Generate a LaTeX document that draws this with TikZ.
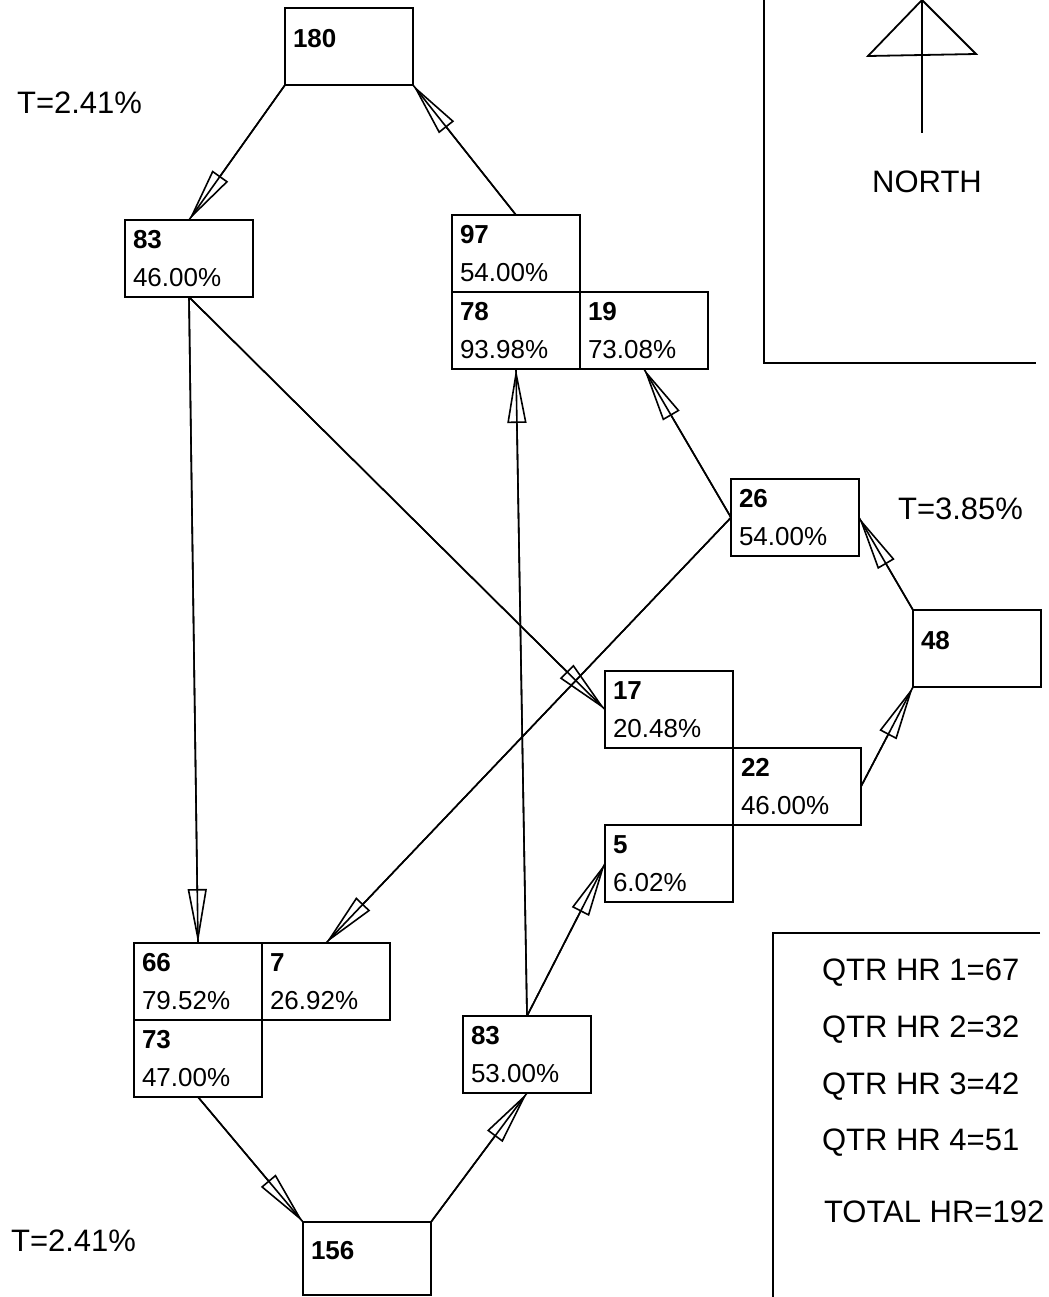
\documentclass[tikz,border=0pt]{standalone}
\usepackage{fontspec}
\setmainfont{Liberation Sans}
\usetikzlibrary{arrows.meta, positioning}

\begin{document}
\begin{tikzpicture}[x=0.5pt, y=-0.5pt,
    cell/.style={draw, line width=0.9pt, outer sep=0pt, anchor=north west, minimum height=38.5pt, inner xsep=4pt, text width=56pt, align=left, font=\fontsize{13}{19}\selectfont},
    solo/.style={cell, text depth=8pt},
    note/.style={font=\fontsize{15.5}{18}\selectfont},
    flow/.style={line width=0.8pt, -{Triangle[open, length=27pt, width=9.5pt]}, postaction={draw, -}}]
\useasboundingbox (0,0) rectangle (1049,1297);
% north sign
\draw[line width=0.9pt] (764,0) -- (764,363) -- (1036,363);
\draw[line width=0.9pt] (922,0) -- (868,56) -- (976,54) -- cycle;
\draw[line width=0.9pt] (922,0) -- (922,133);
\node[note] (north) at (927,182) {NORTH};
% legend
\draw[line width=0.9pt] (1040,933) -- (773,933) -- (773,1297);
\node[note, anchor=west] (q1) at (815,973) {QTR HR 1=67};
\node[note, anchor=west] (q2) at (815,1030) {QTR HR 2=32};
\node[note, anchor=west] (q3) at (815,1087) {QTR HR 3=42};
\node[note, anchor=west] (q4) at (815,1143) {QTR HR 4=51};
\node[note, anchor=west] (tot) at (817,1212) {TOTAL HR=192};
\node[note, anchor=west] (t1) at (10,103) {T=2.41\%};
\node[note, anchor=west] (t2) at (4,1241) {T=2.41\%};
\node[note, anchor=west] (t3) at (891,509) {T=3.85\%};
% boxes
\node[solo] (n180) at (285,8) {\textbf{180}};
\node[cell] (n83) at (125,220) {\textbf{83}\\46.00\%};
\node[cell] (n97) at (452,215) {\textbf{97}\\54.00\%};
\node[cell, below=0pt of n97] (n78) {\textbf{78}\\93.98\%};
\node[cell, right=0pt of n78] (n19) {\textbf{19}\\73.08\%};
\node[cell] (n26) at (731,479) {\textbf{26}\\54.00\%};
\node[solo] (n48) at (913,610) {\textbf{48}};
\node[cell] (n17) at (605,671) {\textbf{17}\\20.48\%};
\node[cell, below right=0pt of n17] (n22) {\textbf{22}\\46.00\%};
\node[cell, below left=0pt of n22] (n5) {\textbf{5}\\6.02\%};
\node[cell] (n66) at (134,943) {\textbf{66}\\79.52\%};
\node[cell, right=0pt of n66] (n7) {\textbf{7}\\26.92\%};
\node[cell, below=0pt of n66] (n73) {\textbf{73}\\47.00\%};
\node[cell] (n83b) at (463,1016) {\textbf{83}\\53.00\%};
\node[solo, minimum height=36.5pt] (n156) at (303,1222) {\textbf{156}};
% flows
\draw[flow] (n180.south west) -- (n83.north);
\draw[flow] (n97.north) -- (n180.south east);
\draw[flow] (n83.south) -- (n66.north);
\draw[flow] (n83.south) -- (n17.west);
\draw[flow] (n26.west) -- (n7.north);
\draw[flow] (n26.west) -- (n19.south);
\draw[flow] (n48.north west) -- (n26.east);
\draw[flow] (n22.east) -- (n48.south west);
\draw[flow] (n83b.north) -- (n78.south);
\draw[flow] (n83b.north) -- (n5.west);
\draw[flow] (n73.south) -- (n156.north west);
\draw[flow] (n156.north east) -- (n83b.south);
\end{tikzpicture}
\end{document}
